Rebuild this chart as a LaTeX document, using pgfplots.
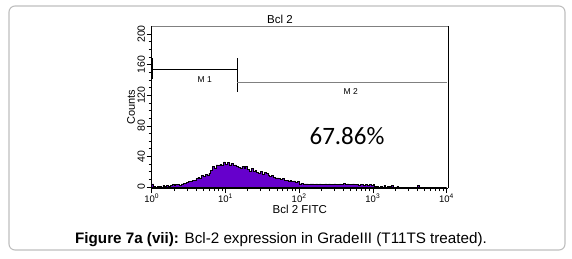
\documentclass[border=0pt]{standalone}
\usepackage{pgfplots}
\pgfplotsset{compat=1.18}
\usepackage{pgfplotstable}
\usepackage{fontspec}
\setmainfont{Liberation Sans}
\newfontfamily\calfont{Carlito}
\definecolor{histpurple}{RGB}{102,0,204}
\definecolor{boxgray}{RGB}{190,190,190}

\pgfplotstableread{
x y
0.000 4
0.025 1
0.050 0
0.075 1
0.100 1
0.125 0
0.150 2
0.175 1
0.200 2
0.225 1
0.250 2
0.275 3
0.300 2
0.325 3
0.350 3
0.375 2
0.400 4
0.425 5
0.450 5
0.475 6
0.500 7
0.525 8
0.550 9
0.575 9
0.600 11
0.625 13
0.650 12
0.675 15
0.700 14
0.725 17
0.750 16
0.775 18
0.800 22
0.825 27
0.850 25
0.875 29
0.900 28
0.925 30
0.950 29
0.975 33
1.000 30
1.025 32
1.050 29
1.075 31
1.100 28
1.125 29
1.150 27
1.175 26
1.200 25
1.225 27
1.250 24
1.275 27
1.300 23
1.325 21
1.350 24
1.375 20
1.400 22
1.425 19
1.450 18
1.475 20
1.500 17
1.525 19
1.550 18
1.575 16
1.600 14
1.625 15
1.650 13
1.675 12
1.700 12
1.725 11
1.750 10
1.775 11
1.800 9
1.825 9
1.850 8
1.875 9
1.900 7
1.925 8
1.950 6
1.975 7
2.000 4
2.025 5
2.050 4
2.075 4
2.100 4
2.125 3
2.150 4
2.175 4
2.200 3
2.225 4
2.250 3
2.275 4
2.300 3
2.325 3
2.350 4
2.375 3
2.400 4
2.425 3
2.450 3
2.475 4
2.500 3
2.525 3
2.550 4
2.575 3
2.600 5
2.625 3
2.650 4
2.675 3
2.700 3
2.725 4
2.750 3
2.775 3
2.800 2
2.825 3
2.850 3
2.875 2
2.900 3
2.925 2
2.950 3
2.975 2
3.000 3
3.025 1
3.050 1
3.075 0
3.100 1
3.125 0
3.150 2
3.175 0
3.200 1
3.225 1
3.250 2
3.275 0
3.300 0
3.325 1
3.350 0
3.375 0
3.400 0
3.425 0
3.450 0
3.475 0
3.500 0
3.525 0
3.550 0
3.575 0
3.600 2
3.625 0
3.650 0
3.700 0
3.800 0
3.900 0
4.000 0
}\histdata

\begin{document}
\begin{tikzpicture}
\path[use as bounding box] (0,0) rectangle (572pt,258pt);
\draw[rounded corners=6pt, boxgray, line width=1.1pt] (9pt,8pt) rectangle (565pt,252pt);
\begin{axis}[
  at={(151.7pt,70pt)}, anchor=south west,
  scale only axis, width=296.3pt, height=162pt,
  xmin=0, xmax=4.02, ymin=-1.3, ymax=210.5,
  axis x line*=bottom, axis y line*=left,
  axis line style={black, line width=0.6pt},
  tick align=outside, major tick length=5pt, minor tick length=3pt,
  tick style={black, line width=0.6pt},
  xtick={0,1,2,3,4},
  xticklabels={10\textsuperscript{0},10\textsuperscript{1},10\textsuperscript{2},10\textsuperscript{3},10\textsuperscript{4}},
  minor xtick={0.301,0.477,0.602,0.699,0.778,0.845,0.903,0.954,
    1.301,1.477,1.602,1.699,1.778,1.845,1.903,1.954,
    2.301,2.477,2.602,2.699,2.778,2.845,2.903,2.954,
    3.301,3.477,3.602,3.699,3.778,3.845,3.903,3.954},
  ytick={0,40,80,120,160,200},
  minor ytick={10,20,30,50,60,70,90,100,110,130,140,150,170,180,190},
  /pgf/number format/assume math mode=true,
  xticklabel style={font=\fontsize{9.5}{10}\selectfont, inner sep=1pt},
  yticklabel style={font=\fontsize{10.5}{11}\selectfont, rotate=90, anchor=south, inner sep=1.5pt},
  xlabel={Bcl 2 FITC}, ylabel={Counts},
  xlabel style={font=\fontsize{11.5}{12}\selectfont, inner sep=1pt},
  ylabel style={font=\fontsize{11}{12}\selectfont, inner sep=1pt},
  clip=false,
]
\addplot[const plot, fill=histpurple, draw=black, line width=0.5pt] table[x=x,y=y] {\histdata} \closedcycle;
% frame top (gray) and right (black)
\addplot[gray, line width=0.8pt, forget plot] coordinates {(0,210.5) (4.02,210.5)};
\addplot[black, line width=0.9pt, forget plot] coordinates {(4.02,-1.3) (4.02,210.5)};
% gate M1
\addplot[black, line width=1pt, forget plot] coordinates {(0.014,153.8) (1.16,153.8)};
\addplot[black, line width=1pt, forget plot] coordinates {(0.014,141) (0.014,168.2)};
\addplot[black, line width=1pt, forget plot] coordinates {(1.16,124.6) (1.16,168.2)};
% gate M2
\addplot[gray, line width=0.8pt, forget plot] coordinates {(1.16,136.9) (4.0,136.9)};
\node[font=\fontsize{8.5}{9}\selectfont] at (axis cs:0.72,140) {M 1};
\node[font=\fontsize{8.5}{9}\selectfont] at (axis cs:2.70,124.8) {M 2};
\node[font=\calfont\fontsize{25}{28}\selectfont] at (axis cs:2.65,66.7) {67.86\%};
\end{axis}
\node[font=\fontsize{11.5}{12}\selectfont] at (280pt,239pt) {Bcl 2};
\node[font=\fontsize{15.2}{16}\selectfont] at (281pt,18.7pt) {\textbf{Figure 7a (vii):} Bcl-2 expression in GradeIII (T11TS treated).};
\end{tikzpicture}
\end{document}
